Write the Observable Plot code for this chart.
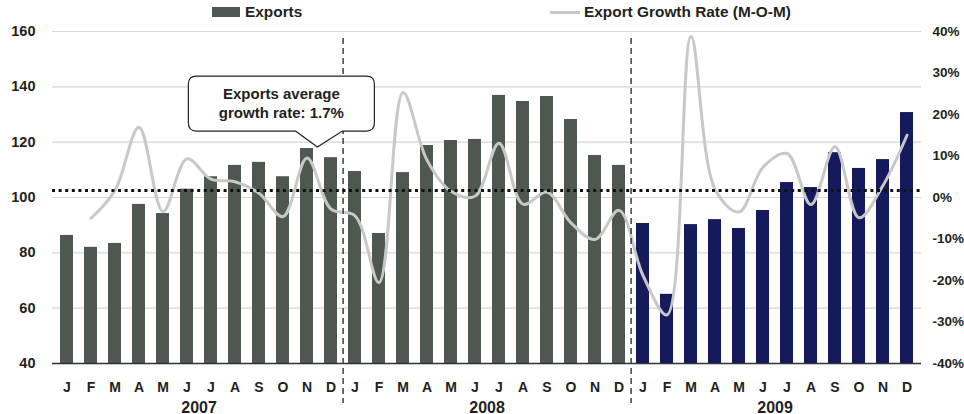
<!DOCTYPE html>
<html><head><meta charset="utf-8">
<script src="https://cdn.jsdelivr.net/npm/d3@7"></script>
<script src="https://cdn.jsdelivr.net/npm/@observablehq/plot@0.6"></script>
<style>
body{margin:0;background:#fff;font-family:"Liberation Sans",Arial,sans-serif;color:#231f20;}
#legend{position:relative;height:24px;width:964px;font-weight:bold;font-size:15.4px;}
#legend .item{position:absolute;top:3px;display:flex;align-items:center;white-space:nowrap;}
#legend .sw{display:inline-block;margin-right:5px;}
</style></head><body>
<div id="legend"></div>
<div id="chart"></div>
<script>
const months = ["J","F","M","A","M","J","J","A","S","O","N","D"];
const years = ["2007","2008","2009"];
const exports2007 = [86.3, 82.0, 83.4, 97.5, 94.2, 103.0, 107.5, 111.6, 112.7, 107.5, 117.7, 114.4];
const exports2008 = [109.4, 87.0, 109.0, 118.8, 120.6, 121.0, 136.9, 134.7, 136.5, 128.2, 115.2, 111.6];
const exports2009 = [90.6, 65.0, 90.2, 92.0, 88.8, 95.3, 105.4, 103.6, 116.2, 110.5, 113.7, 130.7];
const growth2007 = [null, -5.0, 1.7, 16.9, -3.4, 9.3, 4.4, 3.8, 1.0, -4.6, 9.5, -2.8];
const growth2008 = [-4.4, -20.5, 25.3, 9.0, 1.5, 0.3, 13.1, -1.6, 1.3, -6.1, -10.1, -3.1];
const growth2009 = [-18.8, -28.3, 38.8, 2.0, -3.5, 7.3, 10.6, -1.7, 12.2, -4.9, 2.9, 15.0];
const avgGrowth = 1.7;
const leftTicks = [40, 60, 80, 100, 120, 140, 160];
const rightTickLabels = ["-40%", "-30%", "-20%", "-10%", "0%", "10%", "20%", "30%", "40%"];
const rightTicks = [-40, -30, -20, -10, 0, 10, 20, 30, 40];
const seriesNames = ["Exports", "Export Growth Rate (M-O-M)"];
const calloutLines = ["Exports average", "growth rate: 1.7%"];

const green = "#4e5750", navy = "#141a5b", lineGray = "#c8c8c8", ink = "#231f20";

// right axis (percent) mapped onto left axis units: -40% -> 40, 40% -> 160
const toLeft = g => 100 + 1.5 * g;

const exportsByYear = [exports2007, exports2008, exports2009];
const growthByYear = [growth2007, growth2008, growth2009];
const data = [];
years.forEach((yr, yi) => months.forEach((m, mi) => data.push({
  key: yr + "-" + String(mi + 1).padStart(2, "0"), month: m, year: yr,
  value: exportsByYear[yi][mi], growth: growthByYear[yi][mi]
})));
const keys = data.map(d => d.key);
const monthOf = new Map(data.map(d => [d.key, d.month]));

// legend
const legend = document.getElementById("legend");
legend.innerHTML =
  `<div class="item" style="left:212px"><span class="sw" style="width:28px;height:10px;background:${green}"></span>${seriesNames[0]}</div>` +
  `<div class="item" style="left:550px"><span class="sw" style="width:30px;height:3px;background:${lineGray};margin-right:4px"></span>${seriesNames[1]}</div>`;

const W = 964, H = 390, mL = 52, mR = 43, mT = 7, mB = 51;
const pIn = 0.456, pOut = 0.195;
const step = (W - mL - mR) / (keys.length - pIn + 2 * pOut);

const plot = Plot.plot({
  width: W, height: H,
  marginTop: mT, marginBottom: mB, marginLeft: mL, marginRight: mR,
  style: {fontFamily: "'Liberation Sans', Arial, sans-serif", fontWeight: "bold", fontSize: "14.5px", color: ink, background: "#fff", overflow: "visible"},
  x: {type: "band", domain: keys, paddingInner: pIn, paddingOuter: pOut, axis: null},
  y: {domain: [40, 160], axis: null},
  color: {domain: years, range: [green, green, navy]},
  marks: [
    Plot.gridY(leftTicks, {stroke: "#d6d6d6", strokeOpacity: 1, strokeWidth: 1.2}),
    Plot.axisY(leftTicks, {anchor: "left", tickSize: 0, tickPadding: 17, label: null, fill: ink}),
    Plot.axisY(rightTicks.map(toLeft), {anchor: "right", tickSize: 0, tickPadding: 11, label: null, fill: ink, fontSize: 13.5,
      tickFormat: v => rightTickLabels[rightTicks.indexOf(Math.round((v - 100) / 1.5))]}),
    Plot.barY(data, {x: "key", y1: 40, y2: "value", fill: "year"}),
    Plot.line(data.filter(d => d.growth != null), {x: "key", y: d => toLeft(d.growth), stroke: lineGray, strokeWidth: 3, curve: "catmull-rom"}),
    Plot.ruleY([toLeft(avgGrowth)], {stroke: "#111", strokeWidth: 3, strokeDasharray: "3,3.6"}),
    Plot.ruleX(["2007-12", "2008-12"], {x: d => d, y1: 157.5, y2: 25.5, dx: step / 2, stroke: "#111", strokeWidth: 1.2, strokeDasharray: "6,4"}),
    Plot.ruleY([40], {stroke: "#333", strokeWidth: 1.5}),
    Plot.axisX(keys, {anchor: "bottom", tickSize: 0, tickPadding: 19, label: null, fontSize: 14, fill: ink, tickFormat: k => monthOf.get(k)}),
    Plot.text(years, {x: y => y + "-06", y: 40, dx: step / 2, dy: 44, text: y => y, fontSize: 16, fontWeight: "bold", fill: ink})
  ]
});
document.getElementById("chart").appendChild(plot);

// callout annotation anchored to Nov 2007 bar top
const xs = plot.scale("x"), ys = plot.scale("y");
const anchorKey = "2007-11";
const tx = xs.apply(anchorKey) + xs.bandwidth / 2 + step * 0.45;
const ty = ys.apply(exports2007[10]) - 1;
const bx0 = tx - 129, bx1 = tx + 57, by0 = ty - 71, by1 = ty - 16, r = 8;
const g = d3.select(plot).append("g");
g.append("path")
  .attr("d", `M${tx - 22},${by1}L${tx},${ty}L${tx + 25},${by1}H${bx1 - r}Q${bx1},${by1} ${bx1},${by1 - r}V${by0 + r}Q${bx1},${by0} ${bx1 - r},${by0}H${bx0 + r}Q${bx0},${by0} ${bx0},${by0 + r}V${by1 - r}Q${bx0},${by1} ${bx0 + r},${by1}Z`)
  .attr("fill", "#fff").attr("stroke", "#222").attr("stroke-width", 1.2);
calloutLines.forEach((t, i) => g.append("text")
  .attr("x", (bx0 + bx1) / 2).attr("y", by0 + 18 + i * 19).attr("dy", "0.35em")
  .attr("text-anchor", "middle").attr("font-size", 15).attr("font-weight", "bold").attr("fill", ink)
  .text(t));
</script>
</body></html>
